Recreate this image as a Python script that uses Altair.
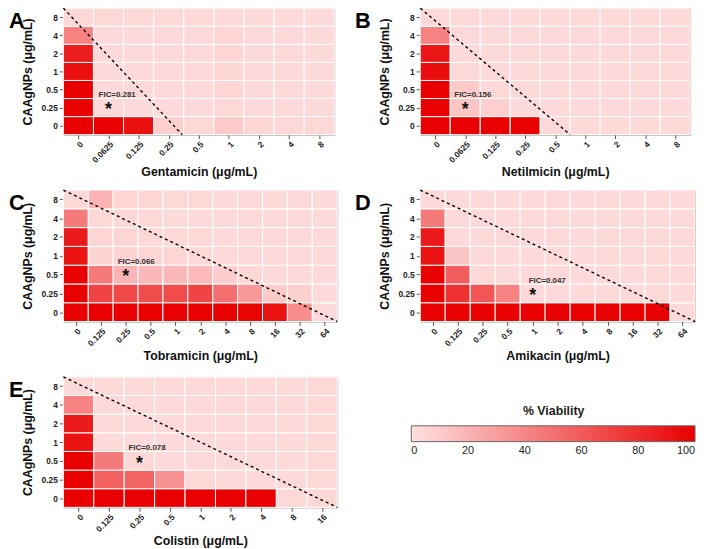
import altair as alt
import pandas as pd

FONT = "Liberation Sans"

# CAAgNPs concentrations (rows, bottom -> top)
agnp_labels = ["0", "0.25", "0.5", "1", "2", "4", "8"]

# ---------------- Panel A: Gentamicin ----------------
gent_labels = ["0", "0.0625", "0.125", "0.25", "0.5", "1", "2", "4", "8"]
gent_values = [
    [100, 100, 93, 8, 4, 10, 5, 4, 4],
    [100, 3, 3, 3, 3, 4, 3, 3, 3],
    [100, 3, 3, 3, 3, 5, 3, 3, 3],
    [93, 3, 3, 3, 3, 5, 3, 3, 3],
    [87, 3, 3, 3, 3, 5, 3, 3, 3],
    [42, 3, 3, 3, 3, 5, 3, 3, 3],
    [4, 4, 4, 3, 3, 3, 3, 3, 3],
]
gent_star = [1, 1]
gent_fic = "FIC=0.281"
gent_diag_end = 3.95

# ---------------- Panel B: Netilmicin ----------------
neti_labels = ["0", "0.0625", "0.125", "0.25", "0.5", "1", "2", "4", "8"]
neti_values = [
    [100, 100, 100, 100, 3, 3, 3, 3, 3],
    [100, 12, 8, 3, 3, 3, 3, 3, 3],
    [100, 10, 4, 3, 3, 3, 3, 3, 3],
    [94, 3, 3, 3, 3, 3, 3, 3, 3],
    [90, 3, 3, 3, 3, 3, 3, 3, 3],
    [42, 3, 3, 3, 3, 3, 3, 3, 3],
    [3, 3, 3, 3, 3, 3, 3, 3, 3],
]
neti_star = [1, 1]
neti_fic = "FIC=0.156"
neti_diag_end = 5.0

# ---------------- Panel C: Tobramicin ----------------
tobr_labels = ["0", "0.125", "0.25", "0.5", "1", "2", "4", "8", "16", "32", "64"]
tobr_values = [
    [100, 100, 100, 100, 100, 100, 100, 98, 92, 37, 3],
    [100, 70, 68, 66, 66, 70, 50, 32, 10, 7, 3],
    [100, 45, 20, 18, 18, 17, 9, 4, 3, 3, 3],
    [92, 6, 6, 5, 5, 4, 4, 3, 3, 3, 3],
    [88, 5, 5, 4, 4, 4, 3, 3, 3, 3, 3],
    [45, 4, 4, 4, 3, 3, 3, 3, 3, 3, 3],
    [4, 20, 5, 5, 4, 4, 3, 3, 3, 3, 3],
]
tobr_star = [2, 2]
tobr_fic = "FIC=0.066"
tobr_diag_end = 11.0

# ---------------- Panel D: Amikacin ----------------
amik_labels = ["0", "0.125", "0.25", "0.5", "1", "2", "4", "8", "16", "32", "64"]
amik_values = [
    [100, 100, 100, 100, 100, 100, 100, 100, 100, 100, 3],
    [100, 78, 62, 42, 3, 3, 3, 3, 3, 3, 3],
    [100, 58, 4, 3, 3, 3, 3, 3, 3, 3, 3],
    [92, 12, 4, 3, 3, 3, 3, 3, 3, 3, 3],
    [88, 3, 3, 3, 3, 3, 3, 3, 3, 3, 3],
    [45, 3, 3, 3, 3, 3, 3, 3, 3, 3, 3],
    [3, 3, 3, 3, 3, 3, 3, 3, 3, 3, 3],
]
amik_star = [4, 1]
amik_fic = "FIC=0.047"
amik_diag_end = 11.0

# ---------------- Panel E: Colistin ----------------
coli_labels = ["0", "0.125", "0.25", "0.5", "1", "2", "4", "8", "16"]
coli_values = [
    [100, 100, 100, 100, 100, 100, 100, 4, 4],
    [100, 57, 55, 35, 4, 3, 3, 3, 4],
    [100, 45, 4, 3, 3, 3, 3, 3, 4],
    [92, 3, 3, 3, 3, 3, 3, 3, 4],
    [88, 3, 3, 3, 3, 3, 3, 3, 4],
    [42, 3, 3, 3, 3, 3, 3, 3, 4],
    [3, 3, 3, 3, 3, 3, 3, 3, 4],
]
coli_star = [2, 2]
coli_fic = "FIC=0.078"
coli_diag_end = 9.0

legend_values = [0, 20, 40, 60, 80, 100]

color_scale = alt.Scale(domain=[0, 100], range=["#ffe0e0", "#e90000"], interpolate="rgb")
color_legend = alt.Legend(
    orient="none", legendX=352, legendY=402, direction="horizontal",
    gradientLength=287, gradientThickness=16, title="% Viability",
    titleAnchor="middle", titleFont=FONT, titleFontSize=12.5, titleFontWeight="bold",
    titleColor="#222", titlePadding=8, labelFont=FONT, labelFontSize=11,
    labelColor="#222", labelOffset=4, values=legend_values,
    gradientStrokeColor="#666", gradientStrokeWidth=1,
)


def js_list(items):
    return "[" + ",".join("'" + s + "'" for s in items) + "]"


def make_panel(letter, drug, labels, values, star, fic, diag_end,
               width, height, letter_dx, fic_dx):
    n = len(labels)
    m = len(agnp_labels)
    cells = pd.DataFrame(
        [
            {"x": c, "x2": c + 1, "y": r, "y2": r + 1, "v": v}
            for r, row in enumerate(values)
            for c, v in enumerate(row)
        ]
    )
    xscale = alt.Scale(domain=[0, n], nice=False, zero=False)
    yscale = alt.Scale(domain=[0, m], nice=False, zero=False)
    xaxis = alt.Axis(
        values=[i + 0.5 for i in range(n)], tickCount=n + 1,
        labelExpr=js_list(labels) + "[floor(datum.value)]",
        labelAngle=-45, labelPadding=1, title=drug + " (μg/mL)",
        titlePadding=2, grid=False, domain=False, labelOverlap=False,
    )
    yaxis = alt.Axis(
        values=[i + 0.5 for i in range(m)], tickCount=m + 1,
        labelExpr=js_list(agnp_labels) + "[floor(datum.value)]",
        title="CAAgNPs (μg/mL)", titlePadding=7, grid=False, domain=False,
        labelPadding=2, labelOverlap=False,
    )
    rect = alt.Chart(cells).mark_rect(stroke="white", strokeWidth=1).encode(
        x=alt.X("x:Q", scale=xscale, axis=xaxis),
        x2="x2:Q",
        y=alt.Y("y:Q", scale=yscale, axis=yaxis),
        y2="y2:Q",
        color=alt.Color("v:Q", scale=color_scale, legend=color_legend),
    )
    diag = alt.Chart(pd.DataFrame({"x": [0, diag_end], "y": [m, 0]})).mark_line(
        color="black", strokeWidth=1.4, strokeDash=[3, 3]
    ).encode(x="x:Q", y="y:Q")
    sdf = pd.DataFrame({"x": [star[0] + 0.5], "y": [star[1] + 0.5], "fic": [fic], "s": ["*"]})
    fic_text = alt.Chart(sdf).mark_text(
        align="left", baseline="middle", dx=fic_dx, dy=-12.5,
        font=FONT, fontSize=8, fontWeight="bold", color="#333",
    ).encode(x="x:Q", y="y:Q", text="fic:N")
    star_text = alt.Chart(sdf).mark_text(
        align="center", baseline="alphabetic", dy=8,
        font=FONT, fontSize=18, fontWeight="bold", color="#111",
    ).encode(x="x:Q", y="y:Q", text="s:N")
    letter_mark = alt.Chart(pd.DataFrame({"t": [letter]})).mark_text(
        align="left", baseline="top", font=FONT, fontSize=22,
        fontWeight="bold", color="black",
    ).encode(text="t:N", x=alt.value(letter_dx), y=alt.value(3))
    return alt.layer(rect, diag, fic_text, star_text, letter_mark).properties(
        width=width, height=height
    )


pA = make_panel("A", "Gentamicin", gent_labels, gent_values, gent_star, gent_fic,
                gent_diag_end, 274, 128, -55, -10)
pB = make_panel("B", "Netilmicin", neti_labels, neti_values, neti_star, neti_fic,
                neti_diag_end, 273, 128, -66, -11)
pC = make_panel("C", "Tobramicin", tobr_labels, tobr_values, tobr_star, tobr_fic,
                tobr_diag_end, 277, 133, -55, -8)
pD = make_panel("D", "Amikacin", amik_labels, amik_values, amik_star, amik_fic,
                amik_diag_end, 278, 133, -66, -4)
pE = make_panel("E", "Colistin", coli_labels, coli_values, coli_star, coli_fic,
                coli_diag_end, 277, 132, -55, -11)

chart = alt.concat(
    pA, pB, pC, pD, pE, columns=2, spacing={"row": 56, "column": 84},
    bounds="flush", align="each",
).configure(
    padding={"top": -7, "left": 0, "right": 0, "bottom": 0}
).configure_view(
    stroke="#999", strokeWidth=1
).configure_axis(
    labelFont=FONT, labelFontSize=8.5, labelFontWeight="bold", labelColor="#222",
    titleFont=FONT, titleFontSize=12.5, titleFontWeight="bold", titleColor="#111",
    tickColor="#555", tickSize=4, labelOverlap=False, labelFlush=False,
)

chart.save("out.html", embed_options={"renderer": "svg", "actions": False})
